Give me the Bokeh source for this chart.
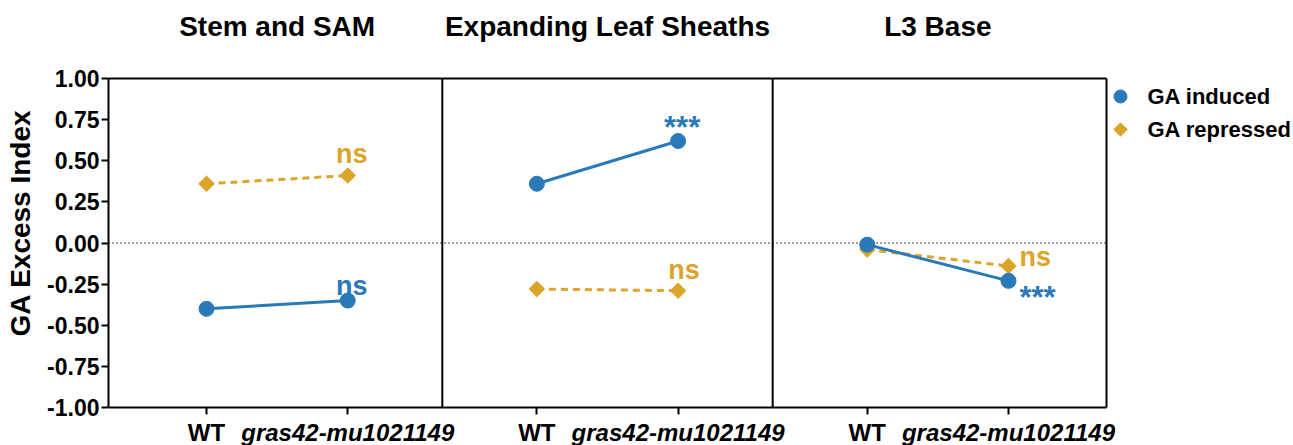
import numpy as np
from bokeh.plotting import figure
from bokeh.models import Range1d, FixedTicker, NumeralTickFormatter, LinearAxis
from bokeh.core.properties import value
from bokeh.embed import file_html
from bokeh.resources import INLINE

# ---------------- data ----------------
panels = ["Stem and SAM", "Expanding Leaf Sheaths", "L3 Base"]
genotypes = ["WT", "gras42-mu1021149"]
genotype_font_styles = ["bold", "bold italic"]
series_names = ["GA  induced", "GA repressed"]
induced = [[-0.40, -0.35], [0.36, 0.62], [-0.01, -0.23]]
repressed = [[0.36, 0.41], [-0.28, -0.29], [-0.04, -0.14]]
induced_sig = ["ns", "***", "***"]
repressed_sig = ["ns", "ns", "ns"]
y_ticks = [-1.0, -0.75, -0.5, -0.25, 0.0, 0.25, 0.5, 0.75, 1.0]

# ---------------- style / layout ----------------
BLUE = "#2a79b8"
GOLD = "#dca52a"
FONT = "Liberation Sans"
W, H = 1290, 445                      # canvas
FL, FT, FW, FH = 108, 78, 998, 329    # plotted box: left, top, width, height (px)
PAD = 0.694                           # outer padding of the box, category units
PW = 2.339                            # distance between panels, category units
Y_LO, Y_HI = -1.0, 1.0
n = len(panels)
X_PX = FW / (2 * PAD + (n - 1) * PW + 1)   # px per x unit
Y_PX = FH / (Y_HI - Y_LO)                  # px per y unit
x_start = -PAD
x_box_end = (n - 1) * PW + 1 + PAD
x_end = x_start + (W - FL) / X_PX
y_top = Y_HI + FT / Y_PX
y_bot = Y_LO - (H - FT - FH) / Y_PX

p = figure(width=W, height=H, title=None,
           x_range=Range1d(x_start, x_end), y_range=Range1d(y_bot, y_top),
           output_backend="svg", toolbar_location=None, x_axis_location=None,
           min_border_left=FL, min_border_right=0, min_border_top=0, min_border_bottom=0)
p.grid.visible = False
p.outline_line_color = None
p.background_fill_color = "white"
p.border_fill_color = "white"

xs = [[k * PW + i for i in range(len(genotypes))] for k in range(n)]
flat_x = [x for row in xs for x in row]

# y axis
yax = p.yaxis[0]
yax.ticker = FixedTicker(ticks=y_ticks)
yax.bounds = (Y_LO, Y_HI)
yax.formatter = NumeralTickFormatter(format="0.00")
yax.axis_label = "GA Excess Index"
yax.axis_label_text_font = FONT
yax.axis_label_text_font_style = "bold"
yax.axis_label_text_font_size = "28px"
yax.axis_label_text_color = "black"
yax.axis_label_standoff = 8
yax.major_label_text_font = FONT
yax.major_label_text_font_style = "bold"
yax.major_label_text_font_size = "23px"
yax.major_label_text_color = "black"
yax.major_label_standoff = 2
yax.axis_line_width = 2
yax.major_tick_line_width = 2
yax.major_tick_out = 7
yax.major_tick_in = 0
yax.minor_tick_out = 0
yax.minor_tick_in = 0


def style_axis(ax, show_line):
    ax.axis_line_width = 2
    ax.axis_line_color = "black" if show_line else None
    ax.major_tick_line_width = 2
    ax.major_tick_out = 7
    ax.major_tick_in = 0
    ax.minor_tick_out = 0
    ax.minor_tick_in = 0
    ax.major_label_text_color = "black"
    ax.major_label_text_font = FONT


# x axes at y = -1: one per genotype so each gets its own font style
for i, g in enumerate(genotypes):
    ticks = [r[i] for r in xs]
    ax = LinearAxis(fixed_location=Y_LO, ticker=FixedTicker(ticks=ticks),
                    bounds=(x_start, x_box_end),
                    major_label_overrides={t: g for t in ticks})
    style_axis(ax, show_line=(i == 0))
    ax.major_label_text_font_style = genotype_font_styles[i]
    ax.major_label_text_font_size = "24px"
    ax.major_label_standoff = 4
    p.add_layout(ax, "below")

# panel titles on an unlined axis at y = 1
centers = [(r[0] + r[1]) / 2 for r in xs]
tax = LinearAxis(fixed_location=Y_HI, ticker=FixedTicker(ticks=centers),
                 bounds=(x_start, x_box_end),
                 major_label_overrides={c: t for c, t in zip(centers, panels)})
style_axis(tax, show_line=False)
tax.major_tick_line_color = None
tax.major_tick_out = 0
tax.major_label_text_font_style = "bold"
tax.major_label_text_font_size = "28px"
tax.major_label_standoff = 37
p.add_layout(tax, "above")

# box top/right, panel dividers, zero line
vx = [(xs[k][1] + xs[k + 1][0]) / 2 for k in range(n - 1)] + [x_box_end]
p.segment(x0=vx, y0=[Y_LO] * len(vx), x1=vx, y1=[Y_HI] * len(vx),
          line_color="black", line_width=2)
p.segment(x0=[x_start], y0=[Y_HI], x1=[x_box_end], y1=[Y_HI],
          line_color="black", line_width=2)
p.segment(x0=[x_start], y0=[0], x1=[x_box_end], y1=[0],
          line_color="black", line_width=1.3, line_dash="1 3")

# series
p.multi_line(xs, repressed, line_color=GOLD, line_width=3, line_dash="7 5")
p.multi_line(xs, induced, line_color=BLUE, line_width=3)
p.scatter(flat_x, [v for row in repressed for v in row], marker="square",
          angle=np.pi / 4, size=11, fill_color=GOLD, line_color=GOLD)
p.scatter(flat_x, [v for row in induced for v in row], marker="circle",
          size=15, fill_color=BLUE, line_color=BLUE)

# significance labels: (dx, dy up, align) in px relative to the mutant point
ind_place = [(4, 15, "center"), (4, 14, "center"), (11, -17, "left")]
rep_place = [(4, 22, "center"), (6, 21, "center"), (11, 9, "left")]
for vals, sig, place, col in ((induced, induced_sig, ind_place, BLUE),
                              (repressed, repressed_sig, rep_place, GOLD)):
    for k in range(n):
        dx, dy, al = place[k]
        p.text(x=[xs[k][1] + dx / X_PX], y=[vals[k][1] + dy / Y_PX], text=[sig[k]],
               text_color=col, text_font=value(FONT), text_font_style="bold",
               text_font_size="31px" if sig[k] == "***" else "27px",
               text_align=al, text_baseline="middle")

# legend (drawn with the plot's own glyphs, right of the box)
leg_x = x_box_end + 14 / X_PX
leg_y = [Y_HI - 18 / Y_PX, Y_HI - 51 / Y_PX]
p.scatter([leg_x], [leg_y[0]], marker="circle", size=13, fill_color=BLUE, line_color=BLUE)
p.scatter([leg_x], [leg_y[1]], marker="square", angle=np.pi / 4, size=9.5,
          fill_color=GOLD, line_color=GOLD)
p.text(x=[leg_x + 27 / X_PX] * 2, y=leg_y, text=series_names,
       text_font=value(FONT), text_font_style="bold", text_font_size="22px",
       text_color="black", text_align="left", text_baseline="middle")

open("out.html", "w").write(file_html(p, INLINE))
